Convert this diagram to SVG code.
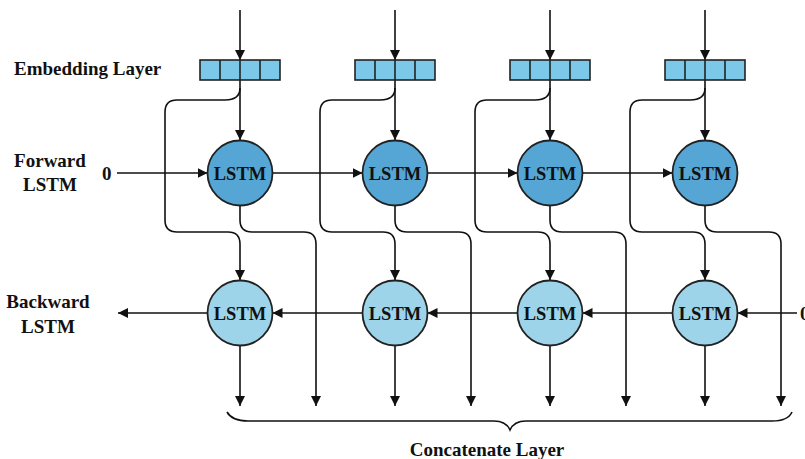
<svg xmlns="http://www.w3.org/2000/svg" width="805" height="459" viewBox="0 0 805 459">
  <defs>
    <marker id="arr" viewBox="0 0 10 10" refX="10" refY="5" markerWidth="10" markerHeight="10" markerUnits="userSpaceOnUse" orient="auto">
      <path d="M0,0 L10,5 L0,10 Z" fill="#111"/>
    </marker>
    <g id="emb">
      <rect x="-40" y="0" width="80" height="20" class="cell"/>
      <line x1="-20" y1="0" x2="-20" y2="20" class="edge"/>
      <line x1="0" y1="0" x2="0" y2="20" class="edge"/>
      <line x1="20" y1="0" x2="20" y2="20" class="edge"/>
    </g>
  </defs>
  <style>
    text { font-family: "Liberation Serif", "Times New Roman", serif; font-weight: bold; fill: #111; }
    .lbl { font-size: 19px; }
    .node { font-size: 18.5px; text-anchor: middle; }
    .cell { fill: #7cc8e8; stroke: #222; stroke-width: 1.6; }
    .edge { stroke: #222; stroke-width: 1.6; fill: none; }
    .fwd { fill: #55a6d4; stroke: #222; stroke-width: 1.8; }
    .bwd { fill: #9dd4ea; stroke: #222; stroke-width: 1.8; }
    .wire { stroke: #111; stroke-width: 1.6; fill: none; }
    .arrow { stroke: #111; stroke-width: 1.6; fill: none; marker-end: url(#arr); }
  </style>
  <rect width="805" height="459" fill="#fff"/>

  <!-- row labels -->
  <g id="labels">
    <text class="lbl" x="14" y="75">Embedding Layer</text>
    <text class="lbl" x="50" y="167" text-anchor="middle">Forward</text>
    <text class="lbl" x="50" y="191" text-anchor="middle">LSTM</text>
    <text class="lbl" x="48" y="308" text-anchor="middle">Backward</text>
    <text class="lbl" x="48" y="333" text-anchor="middle">LSTM</text>
    <text class="lbl" x="102" y="180">0</text>
    <text class="lbl" x="800" y="320">0</text>
    <text class="lbl" x="487" y="456" text-anchor="middle">Concatenate Layer</text>
  </g>

  <!-- connectors -->
  <g id="connectors">
    <!-- inputs into embedding boxes and down into forward cells -->
    <line class="arrow" x1="240" y1="10" x2="240" y2="60"/>
    <line class="arrow" x1="395" y1="10" x2="395" y2="60"/>
    <line class="arrow" x1="550" y1="10" x2="550" y2="60"/>
    <line class="arrow" x1="705" y1="10" x2="705" y2="60"/>
    <line class="arrow" x1="240" y1="80" x2="240" y2="140"/>
    <line class="arrow" x1="395" y1="80" x2="395" y2="140"/>
    <line class="arrow" x1="550" y1="80" x2="550" y2="140"/>
    <line class="arrow" x1="705" y1="80" x2="705" y2="140"/>

    <!-- embedding branch down to backward cells -->
    <path class="arrow" d="M240,88 C240,97 234,100 225,100 L177,100 Q165,100 165,112 L165,220 Q165,232 177,232 L228,232 Q240,232 240,244 L240,280"/>
    <path class="arrow" d="M395,88 C395,97 389,100 380,100 L332,100 Q320,100 320,112 L320,220 Q320,232 332,232 L383,232 Q395,232 395,244 L395,280"/>
    <path class="arrow" d="M550,88 C550,97 544,100 535,100 L487,100 Q475,100 475,112 L475,220 Q475,232 487,232 L538,232 Q550,232 550,244 L550,280"/>
    <path class="arrow" d="M705,88 C705,97 699,100 690,100 L642,100 Q630,100 630,112 L630,220 Q630,232 642,232 L693,232 Q705,232 705,244 L705,280"/>

    <!-- forward outputs to concatenation -->
    <path class="arrow" d="M240,205 L240,220 Q240,232 252,232 L304,232 Q316,232 316,244 L316,406"/>
    <path class="arrow" d="M395,205 L395,220 Q395,232 407,232 L459,232 Q471,232 471,244 L471,406"/>
    <path class="arrow" d="M550,205 L550,220 Q550,232 562,232 L614,232 Q626,232 626,244 L626,406"/>
    <path class="arrow" d="M705,205 L705,220 Q705,232 717,232 L769,232 Q781,232 781,244 L781,406"/>

    <!-- backward outputs to concatenation -->
    <line class="arrow" x1="240" y1="345" x2="240" y2="406"/>
    <line class="arrow" x1="395" y1="345" x2="395" y2="406"/>
    <line class="arrow" x1="550" y1="345" x2="550" y2="406"/>
    <line class="arrow" x1="705" y1="345" x2="705" y2="406"/>

    <!-- forward chain -->
    <line class="arrow" x1="117" y1="173" x2="207.5" y2="173"/>
    <line class="arrow" x1="272.5" y1="173" x2="362.5" y2="173"/>
    <line class="arrow" x1="427.5" y1="173" x2="517.5" y2="173"/>
    <line class="arrow" x1="582.5" y1="173" x2="672.5" y2="173"/>

    <!-- backward chain -->
    <line class="arrow" x1="797" y1="313" x2="737.5" y2="313"/>
    <line class="arrow" x1="672.5" y1="313" x2="582.5" y2="313"/>
    <line class="arrow" x1="517.5" y1="313" x2="427.5" y2="313"/>
    <line class="arrow" x1="362.5" y1="313" x2="272.5" y2="313"/>
    <line class="arrow" x1="207.5" y1="313" x2="118" y2="313"/>

    <!-- brace -->
    <path class="wire" d="M227,412 Q232,421 248,421 L494,421 Q506,421 510,430 Q514,421 526,421 L772,421 Q788,421 792,412"/>
  </g>

  <!-- embedding boxes -->
  <g id="emb1"><use href="#emb" x="240" y="60"/></g>
  <g id="emb2"><use href="#emb" x="395" y="60"/></g>
  <g id="emb3"><use href="#emb" x="550" y="60"/></g>
  <g id="emb4"><use href="#emb" x="705" y="60"/></g>

  <!-- forward LSTM cells -->
  <g id="f1"><circle class="fwd" cx="240" cy="173" r="32.5"/><text class="node" x="240" y="179.5">LSTM</text></g>
  <g id="f2"><circle class="fwd" cx="395" cy="173" r="32.5"/><text class="node" x="395" y="179.5">LSTM</text></g>
  <g id="f3"><circle class="fwd" cx="550" cy="173" r="32.5"/><text class="node" x="550" y="179.5">LSTM</text></g>
  <g id="f4"><circle class="fwd" cx="705" cy="173" r="32.5"/><text class="node" x="705" y="179.5">LSTM</text></g>

  <!-- backward LSTM cells -->
  <g id="b1"><circle class="bwd" cx="240" cy="313" r="32.5"/><text class="node" x="240" y="319.5">LSTM</text></g>
  <g id="b2"><circle class="bwd" cx="395" cy="313" r="32.5"/><text class="node" x="395" y="319.5">LSTM</text></g>
  <g id="b3"><circle class="bwd" cx="550" cy="313" r="32.5"/><text class="node" x="550" y="319.5">LSTM</text></g>
  <g id="b4"><circle class="bwd" cx="705" cy="313" r="32.5"/><text class="node" x="705" y="319.5">LSTM</text></g>
</svg>
